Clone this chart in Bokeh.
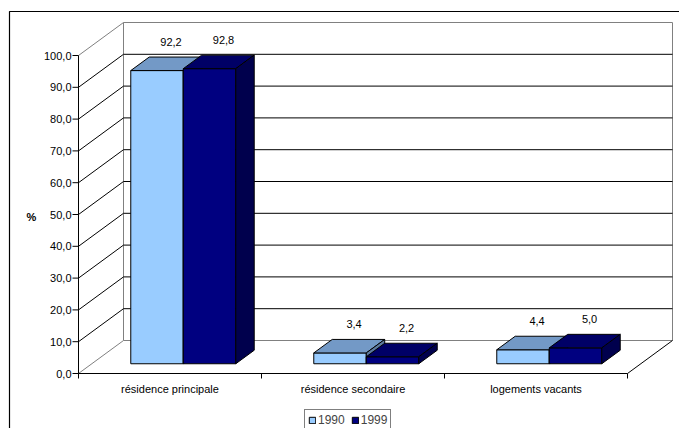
from bokeh.plotting import figure
from bokeh.models import Range1d, Legend, LegendItem
from bokeh.core.properties import value
from bokeh.embed import file_html
from bokeh.resources import INLINE

# ---------------- data ----------------
categories = ["résidence principale", "résidence secondaire", "logements vacants"]
series_names = ["1990", "1999"]
values_1990 = [92.2, 3.4, 4.4]
values_1999 = [92.8, 2.2, 5.0]
y_ticks = [0, 10, 20, 30, 40, 50, 60, 70, 80, 90, 100]
y_tick_labels = ["0,0", "10,0", "20,0", "30,0", "40,0", "50,0",
                 "60,0", "70,0", "80,0", "90,0", "100,0"]
axis_title = "%"

# ---------------- layout / style ----------------
W, H = 679, 428
X0_PX, Y0_PX = 78, 373        # front-left-bottom corner of the plot box
CAT_PX = 183.0                # pixels per category at the front plane
VAL_PX = 3.18                 # pixels per value unit at the front plane
FONT_NAME = "Liberation Sans"
FONT = value(FONT_NAME)


def hx(px):
    return px / CAT_PX


def hy(px):
    return px / VAL_PX


Y_MAX = 100
N = len(categories)
WALL_DX, WALL_DY = hx(45), hy(33)       # depth of the 3D box
BAR_FRONT, BAR_DEPTH = 0.295, 0.41      # bar position/depth as fraction of box depth
BAR_W = hx(52.5)

front_colors = ["#99CCFF", "#000080"]
top_colors = ["#7399C6", "#000066"]
side_colors = ["#5C7A9E", "#00004D"]
WALL_COLOR = "#808080"

p = figure(width=W, height=H, output_backend="svg", toolbar_location=None,
           x_range=Range1d(-hx(X0_PX), hx(W - X0_PX)),
           y_range=Range1d(-hy(H - Y0_PX), hy(Y0_PX)),
           x_axis_type=None, y_axis_type=None, min_border=0)
p.outline_line_color = None
p.background_fill_color = "white"
p.border_fill_color = "white"

# outer chart-area border (cut by the window on the right and bottom)
bx, by = -hx(X0_PX - 9), hy(Y0_PX - 11)
p.line([bx, bx, hx(W - X0_PX) + 1], [-hy(H - Y0_PX) - 5, by, by],
       line_color="black", line_width=1.2)

# back wall
p.quad(left=[WALL_DX], right=[N + WALL_DX], bottom=[WALL_DY], top=[Y_MAX + WALL_DY],
       fill_color="white", line_color=WALL_COLOR, line_width=1)
inner = [t for t in y_ticks if 0 < t < Y_MAX]
p.segment(x0=[WALL_DX] * len(inner), y0=[t + WALL_DY for t in inner],
          x1=[N + WALL_DX] * len(inner), y1=[t + WALL_DY for t in inner],
          line_color="black", line_width=1)
# side wall diagonals
p.segment(x0=[0] * len(inner), y0=inner,
          x1=[WALL_DX] * len(inner), y1=[t + WALL_DY for t in inner],
          line_color="black", line_width=1)
p.segment(x0=[0, 0], y0=[0, Y_MAX], x1=[WALL_DX, WALL_DX],
          y1=[WALL_DY, Y_MAX + WALL_DY], line_color=WALL_COLOR, line_width=1)
# floor right edge
p.segment(x0=[N], y0=[0], x1=[N + WALL_DX], y1=[WALL_DY],
          line_color="black", line_width=1)

# front axes
p.segment(x0=[0], y0=[0], x1=[0], y1=[Y_MAX], line_color="black", line_width=1)
p.segment(x0=[0], y0=[0], x1=[N], y1=[0], line_color="black", line_width=1)
p.segment(x0=[-hx(6)] * len(y_ticks), y0=y_ticks, x1=[0] * len(y_ticks), y1=y_ticks,
          line_color="black", line_width=1)
cat_edges = list(range(N + 1))
p.segment(x0=cat_edges, y0=[0] * len(cat_edges), x1=cat_edges,
          y1=[-hy(5)] * len(cat_edges), line_color="black", line_width=1)

# bars
front_renderers = []
all_values = [values_1990, values_1999]
ddx, ddy = WALL_DX * BAR_DEPTH, WALL_DY * BAR_DEPTH
base = WALL_DY * BAR_FRONT
label_x, label_y, label_t = [], [], []
for k, vals in enumerate(all_values):
    lefts, rights, tops = [], [], []
    top_xs, top_ys, side_xs, side_ys = [], [], [], []
    for i, v in enumerate(vals):
        c = i + 0.5 + WALL_DX * BAR_FRONT
        left = c - BAR_W if k == 0 else c
        right = left + BAR_W
        t = base + v
        lefts.append(left)
        rights.append(right)
        tops.append(t)
        top_xs.append([left, right, right + ddx, left + ddx])
        top_ys.append([t, t, t + ddy, t + ddy])
        side_xs.append([right, right + ddx, right + ddx, right])
        side_ys.append([base, base + ddy, t + ddy, t])
        label_x.append((left + right) / 2 + hx(14))
        label_y.append(t + hy(29))
        label_t.append(f"{v:.1f}".replace(".", ","))
    r = p.quad(left=lefts, right=rights, bottom=[base] * N, top=tops,
               fill_color=front_colors[k], line_color="black", line_width=1)
    front_renderers.append(r)
    p.patches(xs=top_xs, ys=top_ys, fill_color=top_colors[k],
              line_color="black", line_width=1)
    p.patches(xs=side_xs, ys=side_ys, fill_color=side_colors[k],
              line_color="black", line_width=1)

# value labels
p.text(x=label_x, y=label_y, text=label_t, text_font=FONT, text_font_size="11px",
       text_align="center", text_baseline="middle", text_color="black")

# y tick labels
p.text(x=[-hx(7)] * len(y_ticks), y=y_ticks, text=y_tick_labels, text_font=FONT,
       text_font_size="11px", text_align="right", text_baseline="middle",
       text_color="black")

# y axis title
p.text(x=[-hx(47)], y=[hy(157)], text=[axis_title], text_font=FONT,
       text_font_size="11px", text_font_style="bold", text_align="center",
       text_baseline="middle", text_color="black")

# category labels
p.text(x=[i + 0.5 for i in range(N)], y=[-hy(15)] * N, text=categories,
       text_font=FONT, text_font_size="11px", text_align="center",
       text_baseline="middle", text_color="black")

# legend
legend = Legend(items=[LegendItem(label=series_names[k], renderers=[front_renderers[k]])
                       for k in range(2)],
                location=(304, -3), orientation="horizontal",
                glyph_width=8, glyph_height=8, label_standoff=2, spacing=6,
                padding=3, margin=0, label_height=12, label_width=10,
                label_text_font=FONT_NAME, label_text_font_size="12px",
                border_line_color="black", border_line_width=1,
                background_fill_color="white", background_fill_alpha=1)
p.add_layout(legend)

open("out.html", "w").write(file_html(p, INLINE))
